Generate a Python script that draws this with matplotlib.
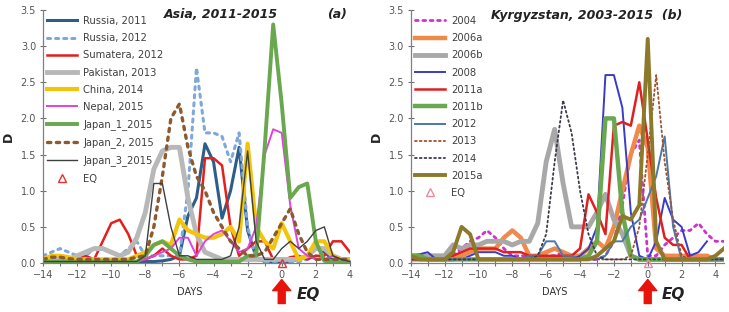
import matplotlib.pyplot as plt
import numpy as np

# days before/after the earthquake, half-day steps
days_a = np.arange(-14, 4.01, 0.5)
days_b = np.arange(-14, 4.51, 0.5)

# ---- panel (a): Asia, 2011-2015 ----
russia_2011 = [0.02, 0.02, 0.03, 0.02, 0.02, 0.02, 0.02, 0.02, 0.02, 0.02, 0.02, 0.02, 0.02,
               0.02, 0.03, 0.05, 0.1, 0.65, 0.9, 1.65, 1.4, 0.62, 1.0, 1.6, 0.45, 0.08, 0.02,
               0.02, 0.02, 0.02, 0.05, 0.1, 0.2, 0.15, 0.05, 0.02, 0.02]
russia_2012 = [0.1, 0.15, 0.2, 0.15, 0.1, 0.1, 0.2, 0.2, 0.15, 0.1, 0.2, 0.3, 0.1, 0.1, 0.1,
               0.1, 0.1, 1.0, 2.7, 1.8, 1.8, 1.75, 1.4, 1.8, 0.5, 0.05, 0.02, 0.02, 0.02, 0.02,
               0.02, 0.05, 0.1, 0.05, 0.02, 0.02, 0.02]
sumatera_2012 = [0.05, 0.05, 0.05, 0.05, 0.05, 0.1, 0.05, 0.3, 0.55, 0.6, 0.4, 0.1, 0.05, 0.1,
                 0.2, 0.1, 0.05, 0.05, 0.1, 1.45, 1.45, 1.35, 0.5, 0.1, 0.2, 0.3, 0.3, 0.05,
                 0.03, 0.08, 0.1, 0.05, 0.1, 0.1, 0.3, 0.3, 0.15]
pakistan_2013 = [0.05, 0.05, 0.05, 0.05, 0.1, 0.15, 0.2, 0.2, 0.15, 0.1, 0.15, 0.35, 0.7, 1.3,
                 1.55, 1.6, 1.6, 0.9, 0.4, 0.15, 0.1, 0.05, 0.05, 0.05, 0.05, 0.05, 0.05, 0.05,
                 0.05, 0.05, 0.05, 0.1, 0.2, 0.2, 0.1, 0.05, 0.05]
china_2014 = [0.05, 0.1, 0.1, 0.08, 0.05, 0.05, 0.05, 0.05, 0.05, 0.05, 0.05, 0.1, 0.15, 0.25,
              0.3, 0.25, 0.6, 0.45, 0.4, 0.35, 0.35, 0.4, 0.5, 0.3, 1.65, 0.5, 0.3, 0.2, 0.55,
              0.3, 0.05, 0.1, 0.3, 0.3, 0.1, 0.05, 0.05]
nepal_2015 = [0.02, 0.02, 0.02, 0.02, 0.02, 0.02, 0.02, 0.02, 0.02, 0.02, 0.02, 0.02, 0.05, 0.1,
              0.15, 0.2, 0.35, 0.35, 0.1, 0.3, 0.4, 0.45, 0.3, 0.15, 0.2, 0.5, 1.5, 1.85, 1.8,
              0.8, 0.2, 0.1, 0.05, 0.05, 0.1, 0.05, 0.02]
japan1_2015 = [0.02, 0.02, 0.02, 0.02, 0.02, 0.02, 0.02, 0.02, 0.02, 0.02, 0.02, 0.02, 0.1,
               0.25, 0.3, 0.2, 0.1, 0.05, 0.02, 0.02, 0.02, 0.02, 0.02, 0.02, 0.1, 0.1, 1.6,
               3.3, 2.2, 0.9, 1.05, 1.1, 0.3, 0.03, 0.02, 0.02, 0.02]
japan2_2015 = [0.05, 0.08, 0.08, 0.06, 0.05, 0.05, 0.05, 0.05, 0.05, 0.05, 0.05, 0.08, 0.1,
               0.5, 1.2, 2.0, 2.2, 1.6, 1.2, 1.0, 0.7, 0.5, 0.3, 0.2, 0.1, 0.1, 0.15, 0.35,
               0.55, 0.75, 0.4, 0.15, 0.05, 0.05, 0.05, 0.05, 0.05]
japan3_2015 = [0.02, 0.02, 0.02, 0.02, 0.02, 0.02, 0.02, 0.02, 0.02, 0.02, 0.02, 0.02, 0.1,
               1.1, 1.1, 0.5, 0.1, 0.1, 0.05, 0.05, 0.05, 0.05, 0.1, 0.5, 1.55, 0.3, 0.05,
               0.05, 0.2, 0.3, 0.2, 0.3, 0.45, 0.5, 0.1, 0.05, 0.02]

# ---- panel (b): Kyrgyzstan, 2003-2015 ----
k_2004 = [0.1, 0.1, 0.1, 0.1, 0.05, 0.1, 0.2, 0.3, 0.35, 0.45, 0.35, 0.2, 0.1, 0.1, 0.1, 0.1,
          0.1, 0.1, 0.15, 0.1, 0.05, 0.05, 0.05, 0.1, 0.3, 0.8, 1.5, 1.7, 0.1, 0.1, 0.25, 0.35,
          0.45, 0.45, 0.55, 0.4, 0.3, 0.3]
k_2006a = [0.05, 0.05, 0.05, 0.05, 0.05, 0.05, 0.1, 0.15, 0.2, 0.2, 0.2, 0.35, 0.45, 0.35, 0.1,
           0.1, 0.15, 0.2, 0.15, 0.1, 0.1, 0.2, 0.3, 0.2, 0.5, 1.0, 1.5, 1.9, 1.6, 0.2, 0.1,
           0.1, 0.1, 0.1, 0.1, 0.1, 0.05, 0.05]
k_2006b = [0.1, 0.1, 0.1, 0.1, 0.1, 0.25, 0.2, 0.25, 0.25, 0.3, 0.3, 0.3, 0.25, 0.3, 0.3, 0.55,
           1.4, 1.85, 1.1, 0.5, 0.5, 0.5, 0.7, 0.95, 0.6, 0.4, 0.1, 0.05, 0.05, 0.05, 0.05,
           0.05, 0.05, 0.05, 0.05, 0.05, 0.05, 0.05]
k_2008 = [0.1, 0.12, 0.15, 0.05, 0.05, 0.05, 0.05, 0.1, 0.15, 0.15, 0.15, 0.1, 0.1, 0.05, 0.05,
          0.05, 0.05, 0.05, 0.05, 0.05, 0.1, 0.2, 0.5, 2.6, 2.6, 2.15, 0.7, 0.1, 0.05, 0.3, 0.9,
          0.6, 0.5, 0.1, 0.15, 0.3, np.nan, np.nan]
k_2011a = [0.05, 0.05, 0.05, 0.05, 0.05, 0.1, 0.15, 0.2, 0.2, 0.2, 0.2, 0.15, 0.15, 0.15, 0.1,
           0.1, 0.1, 0.1, 0.1, 0.1, 0.2, 0.95, 0.7, 0.4, 1.9, 1.95, 1.9, 2.5, 1.7, 0.9, 0.35,
           0.25, 0.25, 0.05, 0.05, 0.05, 0.05, 0.05]
k_2011b = [0.1, 0.1, 0.05, 0.05, 0.05, 0.05, 0.05, 0.05, 0.05, 0.05, 0.05, 0.05, 0.05, 0.05,
           0.05, 0.05, 0.05, 0.05, 0.05, 0.05, 0.05, 0.1, 0.3, 2.0, 2.0, 0.7, 0.1, 0.05, 0.05,
           0.05, 0.05, 0.05, 0.05, 0.05, 0.05, 0.05, 0.05, 0.05]
k_2012 = [0.05, 0.05, 0.05, 0.05, 0.05, 0.05, 0.05, 0.05, 0.05, 0.05, 0.05, 0.05, 0.05, 0.05,
          0.1, 0.1, 0.3, 0.3, 0.1, 0.1, 0.05, 0.05, 0.05, 0.1, 0.3, 0.3, 0.5, 0.6, 0.9, 1.2,
          1.75, 0.5, 0.05, 0.05, 0.05, 0.05, 0.05, 0.05]
k_2013 = [0.05, 0.05, 0.05, 0.05, 0.05, 0.05, 0.05, 0.05, 0.05, 0.05, 0.05, 0.05, 0.05, 0.05,
          0.05, 0.05, 0.05, 0.05, 0.05, 0.05, 0.05, 0.05, 0.05, 0.05, 0.05, 0.05, 0.1, 0.5,
          1.5, 2.6, 1.4, 0.6, 0.1, 0.05, 0.05, 0.05, 0.05, 0.05]
k_2014 = [0.05, 0.05, 0.05, 0.05, 0.05, 0.05, 0.05, 0.05, 0.05, 0.05, 0.05, 0.05, 0.05, 0.05,
          0.05, 0.1, 0.4, 1.4, 2.25, 1.8, 1.0, 0.4, 0.1, 0.05, 0.05, 0.05, 0.05, 0.05, 0.05,
          0.05, 0.05, 0.05, 0.05, 0.05, 0.05, 0.05, 0.05, 0.05]
k_2015a = [0.1, 0.05, 0.05, 0.05, 0.05, 0.15, 0.5, 0.4, 0.05, 0.05, 0.05, 0.05, 0.05, 0.05,
           0.05, 0.05, 0.05, 0.05, 0.05, 0.05, 0.05, 0.05, 0.1, 0.2, 0.3, 0.65, 0.6, 0.8, 3.1,
           0.3, 0.05, 0.05, 0.05, 0.05, 0.05, 0.05, 0.1, 0.2]

# (label, values, color, linewidth, linestyle)
series_a = [
    ("Russia, 2011", russia_2011, "#2f5d8a", 2.2, "-"),
    ("Russia, 2012", russia_2012, "#7fa8d8", 2.2, ":"),
    ("Sumatera, 2012", sumatera_2012, "#e3201c", 1.8, "-"),
    ("Pakistan, 2013", pakistan_2013, "#b8b8b8", 3.5, "-"),
    ("China, 2014", china_2014, "#f2c40c", 3.0, "-"),
    ("Nepal, 2015", nepal_2015, "#dd44dd", 1.4, "-"),
    ("Japan_1_2015", japan1_2015, "#6aa84f", 2.8, "-"),
    ("Japan_2, 2015", japan2_2015, "#8c5a2e", 2.4, ":"),
    ("Japan_3_2015", japan3_2015, "#404040", 1.0, "-"),
]
series_b = [
    ("2004", k_2004, "#cc33cc", 2.0, ":"),
    ("2006a", k_2006a, "#f0894a", 3.2, "-"),
    ("2006b", k_2006b, "#a8a8a8", 3.5, "-"),
    ("2008", k_2008, "#3b3bc4", 1.4, "-"),
    ("2011a", k_2011a, "#e02020", 1.8, "-"),
    ("2011b", k_2011b, "#6aa84f", 3.2, "-"),
    ("2012", k_2012, "#4a78aa", 1.4, "-"),
    ("2013", k_2013, "#a0522d", 1.3, ":"),
    ("2014", k_2014, "#3c3c4c", 1.3, ":"),
    ("2015a", k_2015a, "#8c7a2a", 2.8, "-"),
]

fig = plt.figure(figsize=(7.29, 3.12), dpi=100)
ax_a = fig.add_axes([0.059, 0.157, 0.421, 0.811])
ax_b = fig.add_axes([0.5635, 0.157, 0.4295, 0.811])

panels = [
    (ax_a, days_a, series_a, 4, "#e83030", 0.479),
    (ax_b, days_b, series_b, 4.5, "#f08aa0", 0.46),
]

for ax, days, series, xmax, eq_color, days_x in panels:
    for label, vals, color, lw, ls in series:
        ax.plot(days, vals, color=color, lw=lw, ls=ls, label=label,
                solid_joinstyle="round", dash_capstyle="round")
    ax.plot([0], [0], marker="^", markersize=6, markerfacecolor="none",
            markeredgecolor=eq_color, ls="none", label="EQ", clip_on=False, zorder=10)

    ax.set_xlim(-14, xmax)
    ax.set_ylim(0, 3.5)
    ax.set_xticks(np.arange(-14, 4.1, 2))
    ax.set_xticks(np.arange(-14, xmax + 0.1, 1), minor=True)
    ax.set_yticks(np.arange(0, 3.51, 0.5))
    ax.set_yticklabels([f"{v:.1f}" for v in np.arange(0, 3.51, 0.5)])
    ax.tick_params(axis="both", which="both", direction="inout", length=4,
                   width=0.8, colors="#707070", labelsize=7, labelcolor="#555555")
    ax.tick_params(axis="both", which="major", pad=3)
    for side in ("top", "right"):
        ax.spines[side].set_visible(False)
    for side in ("left", "bottom"):
        ax.spines[side].set_color("#808080")
        ax.spines[side].set_linewidth(0.9)

    ax.set_xlabel("DAYS", fontsize=7, color="#333333")
    ax.xaxis.set_label_coords(days_x, -0.095)
    ax.set_ylabel("D", fontsize=9, fontweight="bold", color="#222222", labelpad=4)

    leg = ax.legend(loc="upper left", bbox_to_anchor=(-0.005, 1.0), frameon=False,
                    fontsize=7.2, labelspacing=0.72, handlelength=3.0,
                    handletextpad=0.6, borderaxespad=0.2)
    for txt in leg.get_texts():
        txt.set_color("#404040")

    # red arrow marking the earthquake day
    ax.annotate("", xy=(0, -0.065), xycoords=("data", "axes fraction"),
                xytext=(0, -0.16), textcoords=("data", "axes fraction"),
                arrowprops=dict(facecolor="#e8140c", edgecolor="#e8140c",
                                width=5, headwidth=13, headlength=8))
    ax.text(0.85, -0.125, "EQ", transform=ax.get_xaxis_transform(),
            fontsize=11, fontweight="bold", fontstyle="italic", color="#222222",
            ha="left", va="center")

ax_a.text(0.395, 0.983, "Asia, 2011-2015", transform=ax_a.transAxes, fontsize=9,
          fontweight="bold", fontstyle="italic", color="#222222", va="center")
ax_a.text(0.925, 0.983, "(a)", transform=ax_a.transAxes, fontsize=9,
          fontweight="bold", fontstyle="italic", color="#222222", va="center")
ax_b.text(0.255, 0.98, "Kyrgyzstan, 2003-2015  (b)", transform=ax_b.transAxes,
          fontsize=9, fontweight="bold", fontstyle="italic", color="#222222",
          va="center")

fig.savefig("out.png", dpi=100)
